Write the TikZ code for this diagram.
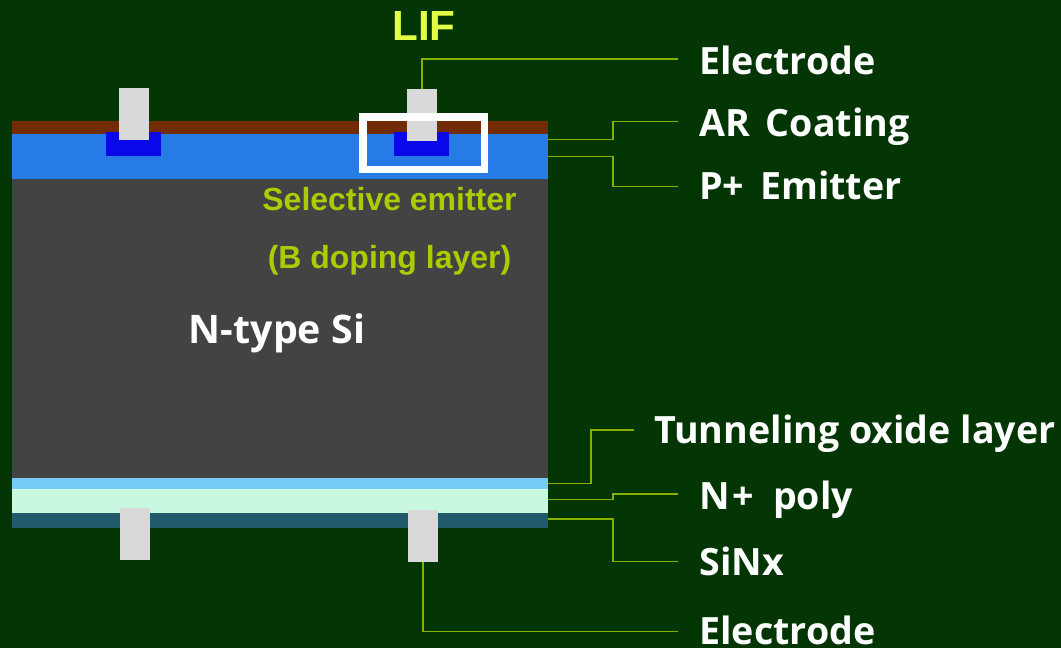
\documentclass[tikz,border=0pt]{standalone}
\usepackage{fontspec}
\setmainfont{Open Sans}
\newfontfamily\arialfont{Liberation Sans}
\definecolor{nenNen}{HTML}{033604}
\definecolor{arNau}{HTML}{722B05}
\definecolor{emitXanh}{HTML}{267BE6}
\definecolor{dopXanh}{HTML}{0808E8}
\definecolor{dienCuc}{HTML}{D9D9D9}
\definecolor{siXam}{HTML}{434343}
\definecolor{oxitXanh}{HTML}{75CDF5}
\definecolor{polyLuc}{HTML}{C9F8E0}
\definecolor{sinxXanh}{HTML}{215A6A}
\definecolor{lifVang}{HTML}{E2FF44}
\definecolor{chuLuc}{HTML}{AACC00}
\definecolor{leaderLuc}{HTML}{88B000}
\tikzset{
electrode/.style={fill=dienCuc,minimum width=.6cm,minimum height=1.04cm,inner sep=0pt,outer sep=0pt},
leader/.style={draw=leaderLuc,line width=.75pt},
label/.style={anchor=base west,text=white,font=\bfseries\fontsize{21.4}{24}\selectfont,inner sep=0pt},
note/.style={anchor=base,text=chuLuc,font=\arialfont\bfseries\fontsize{18.2}{22}\selectfont,inner sep=0pt}
}
\begin{document}
\begin{tikzpicture}[x=.02cm,y=-.02cm,line join=miter]
\fill[nenNen] (0,0) rectangle (1061,648);
% các lớp của tế bào
\fill[arNau] (12,121) rectangle (548,134);
\fill[emitXanh] (12,134) rectangle (548,179);
\fill[siXam] (12,179) rectangle (548,478);
\fill[oxitXanh] (12,478) rectangle (548,489);
\fill[polyLuc] (12,489) rectangle (548,513);
\fill[sinxXanh] (12,513) rectangle (548,528);
\fill[dopXanh] (106,132) rectangle (161,156);
\fill[dopXanh] (394,132) rectangle (449,156);
\path
(134,114) node[electrode] (elecTL) {}
(422,115) node[electrode] (elecTR) {}
(135,534) node[electrode] (elecBL) {}
(423,536) node[electrode] (elecBR) {};
\draw[white,line width=4.25pt] (363,117) rectangle (484.5,169.5);
\path
(424,41) node[anchor=base,text=lifVang,font=\arialfont\bfseries\fontsize{24}{28}\selectfont,inner sep=0pt] (lif) {LIF}
(389.5,211) node[note] (selEmit) {Selective emitter}
(389.5,269) node[note] (bDop) {(B doping layer)}
(277,343) node[anchor=base,text=white,font=\bfseries\fontsize{22.4}{24}\selectfont,inner sep=0pt] (nSi) {N-type Si}
(699,75) node[label] (lblElecT) {Electrode}
(699,137) node[label] (lblAR) {AR\hspace{3.4pt} Coating}
(699,200) node[label] (lblEmit) {P+\hspace{3.4pt} Emitter}
(654,443) node[label] (lblOxide) {Tunneling oxide layer}
(699,509) node[label] (lblPoly) {N\kern1.5pt+\kern1.5pt\hspace{3.8pt} poly}
(699,575) node[label] (lblSiNx) {SiNx}
(699,644) node[label] (lblElecB) {Electrode};
\path
(548,139.7) coordinate (arA)
(613,121.3) coordinate (arB)
(678,121.3) coordinate (arC)
(548,156.7) coordinate (emA)
(613,186.3) coordinate (emB)
(678,186.3) coordinate (emC)
(548,483.3) coordinate (oxA)
(591,430) coordinate (oxB)
(634,430) coordinate (oxC)
(548,499.3) coordinate (poA)
(613,494) coordinate (poB)
(678,494) coordinate (poC)
(548,519) coordinate (siA)
(613,561.3) coordinate (siB)
(678,561.3) coordinate (siC)
(678,59) coordinate (elTC)
(678,631.7) coordinate (elBC);
\draw[leader] (elecTR.north) |- (elTC);
\draw[leader] (elecBR.south) |- (elBC);
\draw[leader] (arA) -| (arB) -- (arC);
\draw[leader] (emA) -| (emB) -- (emC);
\draw[leader] (oxA) -| (oxB) -- (oxC);
\draw[leader] (poA) -| (poB) -- (poC);
\draw[leader] (siA) -| (siB) -- (siC);
\end{tikzpicture}
\end{document}
